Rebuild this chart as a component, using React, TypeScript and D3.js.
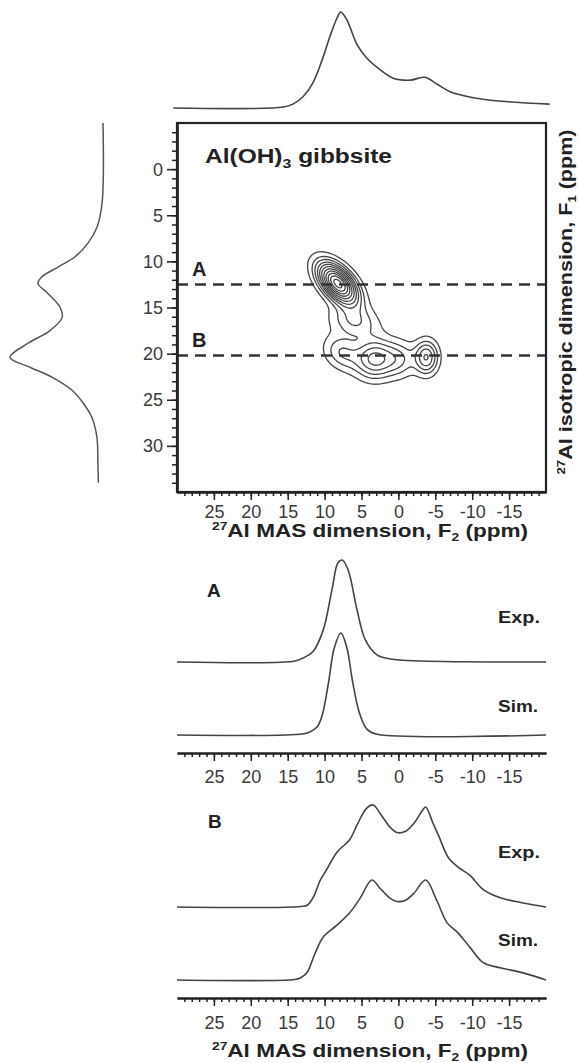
import React, { useEffect, useRef } from 'react';
import * as d3 from 'd3';

// tick labels
const f2Ticks = [25, 20, 15, 10, 5, 0, -5, -10, -15];
const f1Ticks = [0, 5, 10, 15, 20, 25, 30];

// slices through the 2D spectrum (F1 ppm)
const sliceNames = ['A', 'B'];
const sliceF1 = [12.5, 20.2];

// projections: [ppm, intensity]
const topProj = [[30.5, 0], [15.6, 0.01], [14.3, 0.04], [12.9, 0.12], [11.6, 0.26], [10.2, 0.53], [9.3, 0.74], [8.3, 0.94], [7.8, 1.0], [7.0, 0.92], [5.6, 0.66], [4.3, 0.52], [2.5, 0.40], [0.7, 0.31], [-1.6, 0.29], [-3.6, 0.32], [-5.2, 0.25], [-7.0, 0.17], [-10, 0.11], [-14, 0.07], [-20.5, 0.04]];
const leftProj = [[-5, 0], [3.7, 0.01], [6.3, 0.065], [8.0, 0.16], [9.5, 0.30], [10.6, 0.48], [11.7, 0.66], [12.4, 0.70], [13.4, 0.60], [15.0, 0.46], [16.1, 0.44], [17.5, 0.57], [18.9, 0.81], [20.4, 1.0], [21.5, 0.78], [22.6, 0.54], [24.0, 0.33], [25.4, 0.21], [26.9, 0.12], [29.1, 0.065], [31.9, 0.055], [34, 0.05]];

// slice spectra: [F2 ppm, intensity]
const expA = [[30, 0], [14, 0.01], [12.9, 0.04], [11.6, 0.10], [10.2, 0.31], [9.0, 0.71], [8.2, 0.97], [7.6, 1.0], [6.8, 0.90], [5.6, 0.51], [4.5, 0.22], [2.9, 0.07], [1.1, 0.03], [-3, 0.01], [-20, 0]];
const simA = [[30, 0], [13, 0.01], [12, 0.03], [11, 0.08], [10.3, 0.2], [9.5, 0.5], [8.7, 0.85], [7.8, 1.0], [7.0, 0.86], [6.2, 0.52], [5.3, 0.22], [4.3, 0.06], [3.0, 0.01], [-20, 0]];
const expB = [[30, 0], [13.2, 0.005], [12.3, 0.02], [11.5, 0.1], [10.6, 0.26], [9.7, 0.37], [8.3, 0.54], [6.6, 0.66], [5.5, 0.82], [4.3, 0.97], [3.4, 1.0], [2.5, 0.92], [1.1, 0.78], [0.2, 0.73], [-0.9, 0.74], [-2.1, 0.82], [-3.3, 0.95], [-3.7, 0.98], [-4.7, 0.82], [-5.5, 0.69], [-6.8, 0.48], [-8.1, 0.39], [-9.7, 0.31], [-11.5, 0.17], [-13.8, 0.09], [-16.9, 0.04], [-20, 0]];
const simB = [[30, 0], [14, 0.005], [13.3, 0.02], [12.4, 0.07], [11.3, 0.26], [10.2, 0.42], [8.3, 0.54], [6.6, 0.66], [5.2, 0.80], [3.6, 0.98], [2.5, 0.90], [1.1, 0.80], [0.2, 0.77], [-0.9, 0.78], [-2.1, 0.85], [-3.7, 0.98], [-5.2, 0.78], [-6.6, 0.56], [-8.1, 0.46], [-9.7, 0.32], [-11.5, 0.17], [-13.8, 0.12], [-16.9, 0.07], [-20, 0]];

// 2D peak components (F2 centre, F1 centre, widths, height, F2 shift per F1 ppm)
const compF2 = [8.2, 6.0, 3.3, -3.8, 0.0, 7.6];
const compF1 = [12.4, 16.5, 20.6, 20.4, 20.6, 19.9];
const compW2 = [1.45, 2.1, 1.7, 1.05, 1.6, 1.6];
const compW1 = [1.45, 1.2, 1.4, 1.2, 1.3, 1.25];
const compAmp = [1.0, 0.2, 0.37, 0.36, 0.2, 0.2];
const compShear = [0.65, 0.4, 0, 0, 0, 0.3];
const contourLevels = [0.06, 0.13, 0.2, 0.28, 0.36, 0.45, 0.55, 0.65, 0.75, 0.85, 0.95];

const FONT = 'Liberation Sans, Arial, Helvetica, sans-serif';

const App = () => {
  const svgRef = useRef<SVGSVGElement>(null);

  useEffect(() => {
    const svg = d3.select(svgRef.current);
    svg.selectAll('*').remove();

    const x = d3.scaleLinear().domain([30, -20]).range([177, 546]);
    const y = d3.scaleLinear().domain([-5, 35]).range([123, 492]);

    // ---- contour field
    const nx = 246, ny = 246;
    const gx = d3.scaleLinear().domain([0, nx]).range([30, -20]);
    const gy = d3.scaleLinear().domain([0, ny]).range([-5, 35]);
    const values = new Array(nx * ny);
    for (let j = 0; j < ny; j++) {
      for (let i = 0; i < nx; i++) {
        const f2 = gx(i + 0.5), f1 = gy(j + 0.5);
        let v = 0;
        for (let k = 0; k < compF2.length; k++) {
          const dv = f1 - compF1[k];
          const du = f2 - compF2[k] + compShear[k] * dv;
          v += compAmp[k] * Math.exp(-0.5 * (du * du / (compW2[k] * compW2[k]) + dv * dv / (compW1[k] * compW1[k])));
        }
        values[j * nx + i] = v;
      }
    }
    const contours = d3.contours().size([nx, ny]).thresholds(contourLevels)(values);
    const proj = d3.geoTransform({
      point(px, py) { this.stream.point(x(gx(px)), y(gy(py))); }
    });
    const cpath = d3.geoPath(proj);
    svg.append('g')
      .selectAll('path')
      .data(contours)
      .enter()
      .append('path')
      .attr('d', cpath)
      .attr('fill', 'none')
      .attr('stroke', '#444')
      .attr('stroke-width', 1.3);

    // ---- dashed slice lines + labels
    sliceF1.forEach((v, i) => {
      svg.append('line')
        .attr('x1', 177).attr('x2', 546)
        .attr('y1', y(v)).attr('y2', y(v))
        .attr('stroke', '#333').attr('stroke-width', 2.6)
        .attr('stroke-dasharray', '11 7');
      svg.append('text')
        .attr('x', 192).attr('y', y(v) - 8)
        .attr('font-family', FONT).attr('font-weight', 'bold').attr('font-size', 20)
        .attr('fill', '#222')
        .text(sliceNames[i]);
    });

    // ---- box
    svg.append('rect')
      .attr('x', 177).attr('y', 123).attr('width', 369).attr('height', 369)
      .attr('fill', 'none').attr('stroke', '#222').attr('stroke-width', 2.2);

    const styleAxis = (g, tx, ty) => {
      g.select('.domain').attr('stroke', '#222').attr('stroke-width', 2.2);
      g.selectAll('.tick line').attr('stroke', '#222').attr('stroke-width', 1.5);
      g.selectAll('.tick text')
        .attr('fill', '#3a3a3a').attr('font-size', 18).attr('font-family', FONT)
        .attr('dy', 0);
      if (tx !== null) g.selectAll('.tick text').attr('x', tx);
      if (ty !== null) g.selectAll('.tick text').attr('y', ty);
    };

    const xAxisAt = (y0, labelY) => {
      svg.append('g')
        .attr('transform', `translate(0,${y0})`)
        .call(d3.axisBottom(x).tickValues(d3.range(-19, 30)).tickSize(4).tickSizeOuter(0).tickFormat(() => ''))
        .call(g => styleAxis(g, null, null));
      svg.append('g')
        .attr('transform', `translate(0,${y0})`)
        .call(d3.axisBottom(x).tickValues(f2Ticks).tickSize(8).tickSizeOuter(0).tickFormat(d => String(d)))
        .call(g => styleAxis(g, null, labelY));
    };

    xAxisAt(492, 26);

    svg.append('g')
      .attr('transform', 'translate(177,0)')
      .call(d3.axisLeft(y).tickValues(d3.range(-4, 35)).tickSize(5).tickSizeOuter(0).tickFormat(() => ''))
      .call(g => styleAxis(g, null, null));
    svg.append('g')
      .attr('transform', 'translate(177,0)')
      .call(d3.axisLeft(y).tickValues(f1Ticks).tickSize(10).tickSizeOuter(0).tickFormat(d => String(d)))
      .call(g => styleAxis(g, -14, 6));

    // ---- projections
    const curve = d3.curveCatmullRom.alpha(0.5);
    const topY = d3.scaleLinear().domain([0, 1]).range([108, 12]);
    svg.append('path')
      .attr('d', d3.line().curve(curve).x(d => x(d[0])).y(d => topY(d[1]))(topProj))
      .attr('fill', 'none').attr('stroke', '#444').attr('stroke-width', 1.6);

    const leftX = d3.scaleLinear().domain([0, 1]).range([103, 10]);
    svg.append('path')
      .attr('d', d3.line().curve(curve).x(d => leftX(d[1])).y(d => y(d[0]))(leftProj))
      .attr('fill', 'none').attr('stroke', '#555').attr('stroke-width', 1.5);

    // ---- slices
    const traces = [
      { data: expA, base: 662 },
      { data: simA, base: 735 },
      { data: expB, base: 907 },
      { data: simB, base: 980 }
    ];
    traces.forEach(t => {
      const sy = d3.scaleLinear().domain([0, 1]).range([t.base, t.base - 102]);
      svg.append('path')
        .attr('d', d3.line().curve(curve).x(d => x(d[0])).y(d => sy(d[1]))(t.data))
        .attr('fill', 'none').attr('stroke', '#444').attr('stroke-width', 1.6);
    });

    xAxisAt(753, 30);
    xAxisAt(998, 31);

    const boldText = (tx, ty, size, str, len) => {
      const t = svg.append('text')
        .attr('x', tx).attr('y', ty)
        .attr('font-family', FONT).attr('font-weight', 'bold').attr('font-size', size)
        .attr('fill', '#222')
        .text(str);
      if (len) t.attr('textLength', len).attr('lengthAdjust', 'spacingAndGlyphs');
      return t;
    };

    boldText(207, 597, 19, 'A', null);
    boldText(208, 828, 19, 'B', null);
    boldText(498, 623, 17, 'Exp.', 42);
    boldText(498, 712, 17, 'Sim.', 40);
    boldText(498, 858, 17, 'Exp.', 42);
    boldText(498, 946, 17, 'Sim.', 40);

    // title
    const title = svg.append('text')
      .attr('x', 205).attr('y', 163)
      .attr('font-family', FONT).attr('font-weight', 'bold').attr('font-size', 20)
      .attr('fill', '#222')
      .attr('textLength', 187).attr('lengthAdjust', 'spacingAndGlyphs');
    title.append('tspan').text('Al(OH)');
    title.append('tspan').attr('font-size', 13).attr('dy', 5).text('3');
    title.append('tspan').attr('dy', -5).text(' gibbsite');

    // axis titles
    const axisTitle = (sel, sub) => {
      sel.attr('font-family', FONT).attr('font-weight', 'bold').attr('font-size', 18)
        .attr('fill', '#222').attr('lengthAdjust', 'spacingAndGlyphs');
      sel.append('tspan').attr('font-size', 11).attr('dy', -7).text('27');
      sel.append('tspan').attr('dy', 7).text(sub[0]);
      sel.append('tspan').attr('font-size', 11).attr('dy', 4).text(sub[1]);
      sel.append('tspan').attr('dy', -4).text(' (ppm)');
    };
    axisTitle(svg.append('text').attr('x', 212).attr('y', 537).attr('textLength', 316), ['Al MAS dimension, F', '2']);
    axisTitle(svg.append('text').attr('x', 212).attr('y', 1057).attr('textLength', 316), ['Al MAS dimension, F', '2']);
    axisTitle(
      svg.append('text')
        .attr('transform', 'translate(572,302) rotate(-90)')
        .attr('text-anchor', 'middle')
        .attr('textLength', 345),
      ['Al isotropic dimension, F', '1']
    );
  }, []);

  return (
    <svg
      ref={svgRef}
      width={578}
      height={1063}
      style={{ position: 'absolute', left: 0, top: 0, background: '#fff' }}
    />
  );
};

export default App;
